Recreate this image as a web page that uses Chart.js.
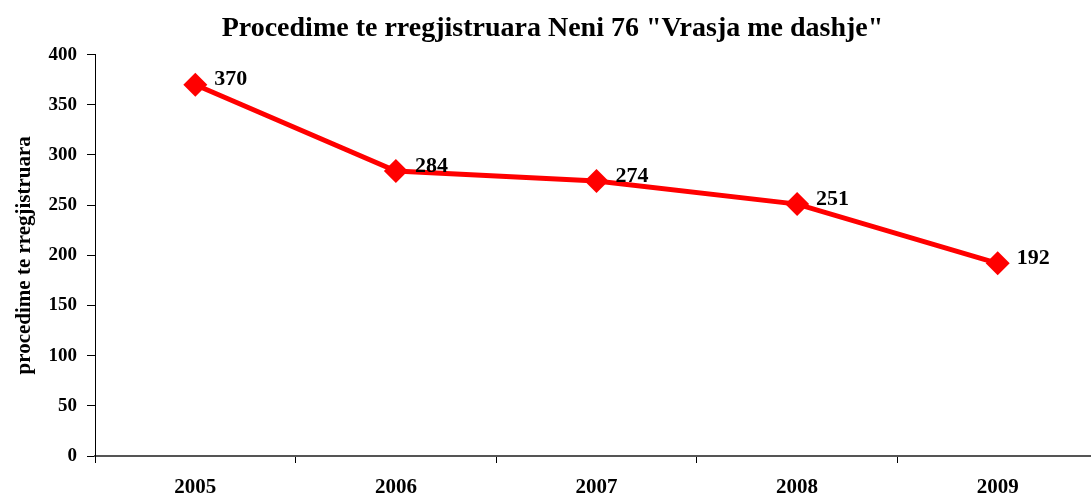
<!DOCTYPE html>
<html>
<head>
<meta charset="utf-8">
<script src="https://cdn.jsdelivr.net/npm/chart.js@4"></script>
<style>
    html, body { margin: 0; padding: 0; background: #fff; overflow: hidden; }
    #wrap { width: 1091px; height: 495px; overflow: hidden; }
</style>
</head>
<body>
<div id="wrap"><canvas id="grafico" width="1110" height="495"></canvas></div>
<script>
// ===================================== Datos ==================
const anios = ['2005', '2006', '2007', '2008', '2009'];
const procedimes = [370, 284, 274, 251, 192];
const ticksY = [0, 50, 100, 150, 200, 250, 300, 350, 400];

const fuente = "'Liberation Serif', 'Times New Roman', serif";

// ===================================== Etiquetas sobre los puntos ==================
const etiquetas = {
    id: 'etiquetas',
    afterDatasetsDraw(chart) {
        const ctx = chart.ctx;
        const meta = chart.getDatasetMeta(0);
        ctx.save();
        ctx.font = 'bold 22px ' + fuente;
        ctx.fillStyle = '#000';
        ctx.textAlign = 'left';
        ctx.textBaseline = 'middle';
        meta.data.forEach((p, i) => {
            ctx.fillText(procedimes[i], p.x + 19, p.y - 5);
        });
        ctx.restore();
    }
};

// ===================================== Grafico ==================
new Chart(document.getElementById('grafico'), {
    type: 'line',
    data: {
        labels: anios,
        datasets: [{
            data: procedimes,
            borderColor: '#ff0000',
            backgroundColor: '#ff0000',
            borderWidth: 5,
            pointStyle: 'rectRot',
            pointRadius: 12,
            pointHoverRadius: 12,
            pointBorderWidth: 0,
            tension: 0
        }]
    },
    options: {
        responsive: false,
        animation: false,
        layout: { padding: { left: 0, right: 5, top: 0, bottom: 0 } },
        plugins: {
            legend: { display: false },
            tooltip: { enabled: false },
            title: {
                display: true,
                text: 'Procedime te rregjistruara Neni 76 "Vrasja me dashje"',
                color: '#000',
                font: { family: fuente, size: 28, weight: 'bold' },
                padding: { top: 12, bottom: 9 }
            }
        },
        scales: {
            x: {
                offset: true,
                afterFit(s) { s.height = 39; },
                grid: {
                    offset: true,
                    drawOnChartArea: false,
                    tickLength: 7,
                    color: '#000'
                },
                border: { color: '#555', width: 2 },
                ticks: {
                    color: '#000',
                    padding: 12,
                    maxRotation: 0,
                    font: { family: fuente, size: 21, weight: 'bold' }
                }
            },
            y: {
                min: 0,
                max: 400,
                afterFit(s) { s.width = 95; },
                afterBuildTicks(s) { s.ticks = ticksY.map(v => ({ value: v })); },
                grid: {
                    drawOnChartArea: false,
                    tickLength: 8,
                    color: '#000'
                },
                border: { color: '#000', width: 1 },
                ticks: {
                    color: '#000',
                    padding: 10,
                    font: { family: fuente, size: 19, weight: 'bold' }
                },
                title: {
                    display: true,
                    text: 'procedime te rregjistruara',
                    color: '#000',
                    font: { family: fuente, size: 21, weight: 'bold' },
                    padding: { top: 12, bottom: 0 }
                }
            }
        }
    },
    plugins: [etiquetas]
});
</script>
</body>
</html>
